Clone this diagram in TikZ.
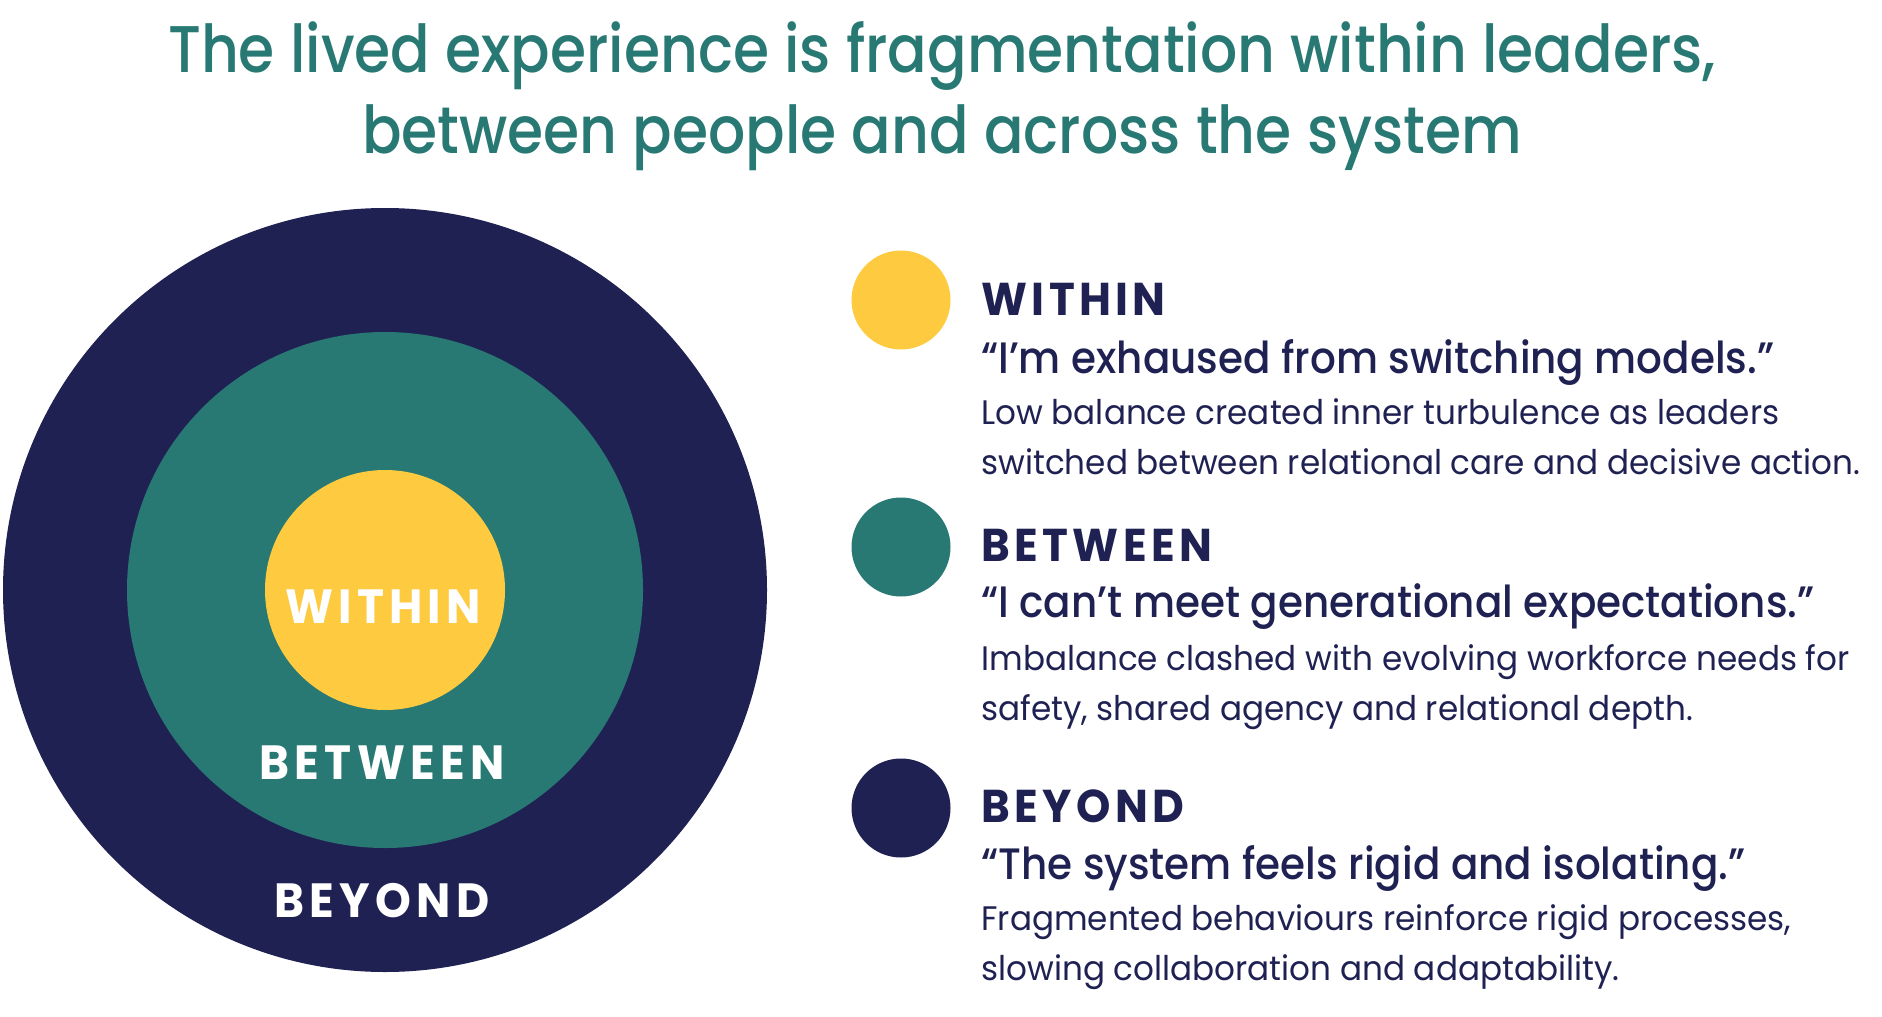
\documentclass[tikz,border=0pt]{standalone}
\usepackage{fontspec}
\setmainfont{Poppins}[FakeStretch=0.96]
\newfontfamily\capsfont{Poppins}[FakeStretch=0.95]
\newfontfamily\quotefont{Poppins Medium}[FakeStretch=0.92]
\newfontfamily\titlefont{Poppins Medium}[FakeStretch=0.885]
\usetikzlibrary{positioning}

\definecolor{navyblue}{HTML}{1F2152}
\definecolor{tealgreen}{HTML}{287873}
\definecolor{sunyellow}{HTML}{FDCA40}

\begin{document}
\begin{tikzpicture}[
      x=0.5pt, y=-0.5pt,
      ring/.style={circle, fill=#1, inner sep=0pt},
      dot/.style={circle, fill=#1, inner sep=0pt, minimum size=49.5pt},
      ringlabel/.style={anchor=base, text=white, font=\capsfont\bfseries\addfontfeature{LetterSpace=11}\fontsize{24}{24}\selectfont},
      headline/.style={anchor=base, text=tealgreen, font=\titlefont\fontsize{33}{33}\selectfont},
      heading/.style={anchor=base west, inner sep=0pt, text=navyblue, font=\capsfont\bfseries\addfontfeature{LetterSpace=9.5}\fontsize{23}{23}\selectfont},
      quote/.style={anchor=base west, inner sep=0pt, text=navyblue, font=\quotefont\fontsize{22}{22}\selectfont},
      body/.style={anchor=base west, inner sep=0pt, align=left, text=navyblue, font=\fontsize{17}{25}\selectfont}
    ]
      \useasboundingbox (0,0) rectangle (1882,1016);

      % Title
      \node (title1) [headline] at (942,73) {The lived experience is fragmentation within leaders,};
      \node (title2) [headline] at ([yshift=-40.5pt]title1.base) {between people and across the system};

      % Rings
      \node (beyond) [ring=navyblue, minimum size=382pt] at (385,590) {};
      \node (between) [ring=tealgreen, minimum size=258pt] at (385,590) {};
      \node (within) [ring=sunyellow, minimum size=120pt] at (385,590) {};

      \node (withinlbl) [ringlabel] at (383,623) {WITHIN};
      \node (betweenlbl) [ringlabel] at (382,779) {BETWEEN};
      \node (beyondlbl) [ringlabel] at (382,917) {BEYOND};

      % Block 1: Within
      \node (dot1) [dot=sunyellow] at (901,300) {};
      \node (head1) [heading] at (981,315) {WITHIN};
      \node (quote1) [quote] at ([yshift=-29pt]head1.base west) {“I’m exhaused from switching models.”};
      \node (body1) [body] at ([yshift=-50.5pt]quote1.base west) {Low balance created inner turbulence as leaders\\
        switched between relational care and decisive action.};

      % Block 2: Between
      \node (dot2) [dot=tealgreen] at (901,547) {};
      \node (head2) [heading] at (981,561) {BETWEEN};
      \node (quote2) [quote] at ([yshift=-28pt]head2.base west) {“I can’t meet generational expectations.”};
      \node (body2) [body] at ([yshift=-51.5pt]quote2.base west) {Imbalance clashed with evolving workforce needs for\\
        safety, shared agency and relational depth.};

      % Block 3: Beyond
      \node (dot3) [dot=navyblue] at (901,808) {};
      \node (head3) [heading] at (981,822) {BEYOND};
      \node (quote3) [quote] at ([yshift=-28.5pt]head3.base west) {“The system feels rigid and isolating.”};
      \node (body3) [body] at ([yshift=-50.5pt]quote3.base west) {Fragmented behaviours reinforce rigid processes,\\
        slowing collaboration and adaptability.};
    \end{tikzpicture}
\end{document}
